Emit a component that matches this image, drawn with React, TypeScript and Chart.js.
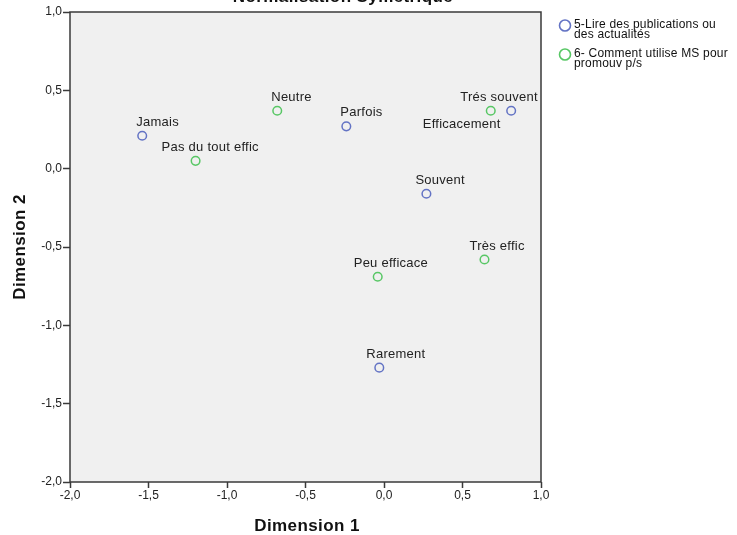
import React, { useEffect, useRef } from "react";
import { Chart, registerables } from "chart.js";

Chart.register(...registerables);

// Category coordinates, series 1: "5-Lire des publications ou des actualités"
const lireLabels = ["Jamais", "Parfois", "Trés souvent", "Souvent", "Rarement"];
const lireDim1 = [-1.54, -0.24, 0.81, 0.27, -0.03];
const lireDim2 = [0.21, 0.27, 0.37, -0.16, -1.27];

// Category coordinates, series 2: "6- Comment utilise MS pour promouv p/s"
const msLabels = ["Pas du tout effic", "Neutre", "Efficacement", "Très effic", "Peu efficace"];
const msDim1 = [-1.2, -0.68, 0.68, 0.64, -0.04];
const msDim2 = [0.05, 0.37, 0.37, -0.58, -0.69];

const seriesNames = [
  ["5-Lire des publications ou", "des actualités"],
  ["6- Comment utilise MS pour", "promouv p/s"],
];

const axisTicks = [-2, -1.5, -1, -0.5, 0, 0.5, 1];

const BLUE = "#6373c4";
const GREEN = "#58c765";
const FONT = "'Liberation Sans', Arial, sans-serif";

// Pixel offsets of each point label (left edge, baseline) relative to its marker
const labelOffsets: Record<string, [number, number]> = {
  "Jamais": [-6, -10],
  "Parfois": [-6, -10],
  "Trés souvent": [-51, -10],
  "Souvent": [-11, -10],
  "Rarement": [-13, -10],
  "Pas du tout effic": [-34, -10],
  "Neutre": [-6, -10],
  "Efficacement": [-68, 17],
  "Très effic": [-15, -10],
  "Peu efficace": [-24, -10],
};

const fmt = (v: number) => v.toFixed(1).replace(".", ",");

const decorPlugin = {
  id: "decor",
  beforeDatasetsDraw(chart: any) {
    const { ctx, chartArea: a } = chart;
    ctx.save();
    ctx.fillStyle = "#f0f0f0";
    ctx.fillRect(a.left, a.top, a.right - a.left, a.bottom - a.top);
    ctx.strokeStyle = "#3a3a3a";
    ctx.lineWidth = 1.5;
    ctx.strokeRect(a.left, a.top, a.right - a.left, a.bottom - a.top);
    ctx.restore();
  },
  afterDatasetsDraw(chart: any) {
    const { ctx, chartArea: a } = chart;
    ctx.save();
    // point labels
    ctx.font = `13px ${FONT}`;
    ctx.letterSpacing = "0.25px";
    ctx.fillStyle = "#222";
    ctx.textAlign = "left";
    ctx.textBaseline = "alphabetic";
    chart.data.datasets.forEach((ds: any, di: number) => {
      const meta = chart.getDatasetMeta(di);
      meta.data.forEach((el: any, i: number) => {
        const name = ds.names[i];
        const off = labelOffsets[name] || [-6, -10];
        ctx.fillText(name, el.x + off[0], el.y + off[1]);
      });
    });

    // title (partly above the canvas)
    ctx.font = `bold 17px ${FONT}`;
    ctx.letterSpacing = "0.4px";
    ctx.textAlign = "center";
    ctx.fillStyle = "#111";
    ctx.fillText("Normalisation Symétrique", 343, 2);

    // axis titles
    ctx.fillText("Dimension 1", 307, 531);
    ctx.save();
    ctx.translate(25, (a.top + a.bottom) / 2);
    ctx.rotate(-Math.PI / 2);
    ctx.fillText("Dimension 2", 0, 0);
    ctx.restore();

    // legend
    const colors = [BLUE, GREEN];
    const ys = [25.5, 54.5];
    ctx.font = `12px ${FONT}`;
    ctx.letterSpacing = "0.2px";
    ctx.textAlign = "left";
    colors.forEach((c, i) => {
      ctx.beginPath();
      ctx.arc(565, ys[i], 5.5, 0, Math.PI * 2);
      ctx.strokeStyle = c;
      ctx.lineWidth = 1.6;
      ctx.stroke();
      ctx.fillStyle = "#111";
      ctx.fillText(seriesNames[i][0], 574, ys[i] + 2);
      ctx.fillText(seriesNames[i][1], 574, ys[i] + 12.5);
    });
    ctx.restore();
  },
};

export default function App() {
  const ref = useRef<HTMLCanvasElement>(null);

  useEffect(() => {
    document.body.style.margin = "0";
    const canvas = ref.current!;
    const chart = new Chart(canvas, {
      type: "scatter",
      data: {
        datasets: [
          {
            label: seriesNames[0].join(" "),
            names: lireLabels,
            data: lireDim1.map((x, i) => ({ x, y: lireDim2[i] })),
            borderColor: BLUE,
            backgroundColor: "rgba(0,0,0,0)",
            pointRadius: 4.3,
            pointBorderWidth: 1.5,
          } as any,
          {
            label: seriesNames[1].join(" "),
            names: msLabels,
            data: msDim1.map((x, i) => ({ x, y: msDim2[i] })),
            borderColor: GREEN,
            backgroundColor: "rgba(0,0,0,0)",
            pointRadius: 4.3,
            pointBorderWidth: 1.5,
          } as any,
        ],
      },
      options: {
        animation: false,
        responsive: false,
        layout: { padding: { top: 12, right: 196, left: 0, bottom: 0 } },
        plugins: {
          legend: { display: false },
          tooltip: { enabled: false },
          title: { display: false },
        },
        scales: {
          x: {
            type: "linear",
            min: -2,
            max: 1,
            afterBuildTicks: (s: any) => {
              s.ticks = axisTicks.map((v) => ({ value: v }));
            },
            afterFit: (s: any) => {
              s.height = 53;
            },
            grid: {
              drawOnChartArea: false,
              drawTicks: true,
              tickLength: 6,
              tickColor: "#3a3a3a",
              tickWidth: 1.5,
            },
            border: { display: false },
            ticks: {
              callback: (v: any) => fmt(Number(v)),
              color: "#222",
              font: { size: 12, family: FONT },
              padding: 0,
              maxRotation: 0,
            },
          },
          y: {
            type: "linear",
            min: -2,
            max: 1,
            afterBuildTicks: (s: any) => {
              s.ticks = axisTicks.map((v) => ({ value: v }));
            },
            afterFit: (s: any) => {
              s.width = 70;
            },
            grid: {
              drawOnChartArea: false,
              drawTicks: true,
              tickLength: 7,
              tickColor: "#3a3a3a",
              tickWidth: 1.5,
            },
            border: { display: false },
            ticks: {
              callback: (v: any) => fmt(Number(v)),
              color: "#222",
              font: { size: 12, family: FONT },
              padding: 1,
            },
          },
        },
      } as any,
      plugins: [decorPlugin],
    });
    return () => chart.destroy();
  }, []);

  return (
    <div style={{ width: 737, height: 535, background: "#fff" }}>
      <canvas ref={ref} width={737} height={535} style={{ display: "block" }} />
    </div>
  );
}
